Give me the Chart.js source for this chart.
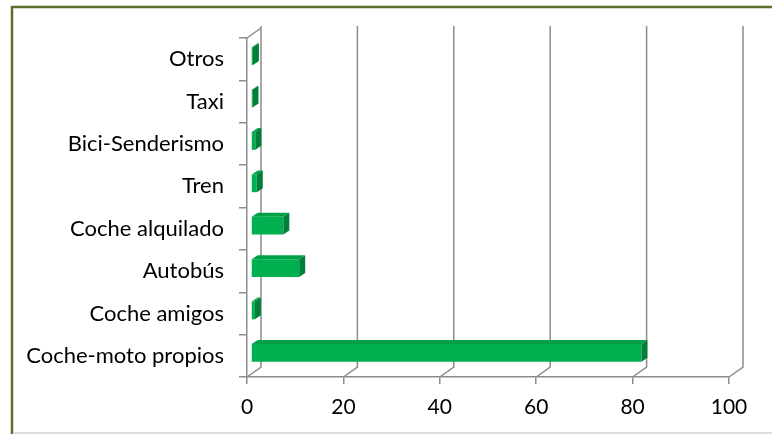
<!DOCTYPE html>
<html>
<head>
<meta charset="utf-8">
<script src="https://cdn.jsdelivr.net/npm/chart.js@4.4.1/dist/chart.umd.min.js"></script>
<style>
  html, body { margin: 0; padding: 0; background: #fff; }
  canvas { display: block; }
</style>
</head>
<body>
<canvas id="transporte" width="772" height="434"></canvas>
<script>
const categories = ["Coche-moto propios", "Coche amigos", "Autobús", "Coche alquilado", "Tren", "Bici-Senderismo", "Taxi", "Otros"];
const percentages = [81, 0.8, 10, 6.7, 1.2, 0.9, 0.3, 0.4];
const xTicks = [0, 20, 40, 60, 80, 100];

const WALL = { dx: 14, dy: -10 };      // depth of the box behind the bars
const BAR_SHIFT = { dx: 4, dy: -3 };   // bars sit a little inside the box
const BAR_DEPTH = { dx: 6, dy: -4 };
const GRID = "#8c8c8c";

function poly(ctx, pts) {
    ctx.beginPath();
    ctx.moveTo(pts[0][0], pts[0][1]);
    for (let i = 1; i < pts.length; i++) ctx.lineTo(pts[i][0], pts[i][1]);
    ctx.closePath();
    ctx.fill();
}

const depthBox = {
    id: "depthBox",
    beforeDraw(chart) {
        const { ctx, chartArea: a, scales } = chart;
        ctx.save();
        ctx.strokeStyle = "#5b6e2a";
        ctx.lineWidth = 2.5;
        ctx.strokeRect(12, 7, 900, 600);
        ctx.fillStyle = "#dcdcdc";
        ctx.fillRect(13, 432, 759, 2);

        // gridlines on the back wall, joined to the front ticks
        ctx.strokeStyle = GRID;
        ctx.lineWidth = 1.5;
        ctx.beginPath();
        xTicks.forEach(function (v) {
            const px = scales.x.getPixelForValue(v);
            ctx.moveTo(px, a.bottom);
            ctx.lineTo(px + WALL.dx, a.bottom + WALL.dy);
            ctx.lineTo(px + WALL.dx, a.top + WALL.dy - 2);
        });
        ctx.moveTo(a.left, a.top);
        ctx.lineTo(a.left + WALL.dx, a.top + WALL.dy);
        ctx.stroke();
        ctx.restore();
    },
    beforeDatasetsDraw(chart) {
        chart.ctx.save();
        chart.ctx.translate(BAR_SHIFT.dx, BAR_SHIFT.dy);
    },
    afterDatasetsDraw(chart) {
        const ctx = chart.ctx;
        chart.getDatasetMeta(0).data.forEach(function (bar) {
            const { x, y, base, height } = bar.getProps(["x", "y", "base", "height"], true);
            const t = y - height / 2, b = y + height / 2;
            ctx.fillStyle = "#00a047";
            poly(ctx, [[base, t], [x, t], [x + BAR_DEPTH.dx, t + BAR_DEPTH.dy], [base + BAR_DEPTH.dx, t + BAR_DEPTH.dy]]);
            ctx.fillStyle = "#007f38";
            poly(ctx, [[x, t], [x, b], [x + BAR_DEPTH.dx, b + BAR_DEPTH.dy], [x + BAR_DEPTH.dx, t + BAR_DEPTH.dy]]);
        });
        ctx.restore();
    }
};

new Chart(document.getElementById("transporte"), {
    type: "bar",
    data: {
        labels: categories,
        datasets: [{
            data: percentages,
            backgroundColor: "#00b050",
            borderWidth: 0,
            barPercentage: 0.42,
            categoryPercentage: 1,
            clip: false
        }]
    },
    options: {
        indexAxis: "y",
        responsive: false,
        animation: false,
        devicePixelRatio: 1,
        layout: { padding: { top: 38, right: 43, left: 0, bottom: 0 } },
        plugins: { legend: { display: false }, tooltip: { enabled: false } },
        scales: {
            x: {
                min: 0,
                max: 100,
                afterBuildTicks: function (s) { s.ticks = xTicks.map(v => ({ value: v })); },
                ticks: { font: { family: "Lato", size: 21 }, color: "#000", padding: 11, maxRotation: 0 },
                grid: { drawOnChartArea: false, tickLength: 7, color: GRID, lineWidth: 1.5 },
                border: { color: GRID, width: 1.5 },
                afterFit: function (s) { s.height = 57; }
            },
            y: {
                reverse: true,
                ticks: { font: { family: "Lato", size: 22 }, color: "#000", padding: 15 },
                grid: { drawOnChartArea: false, tickLength: 8, color: GRID, lineWidth: 1.5, offset: true },
                border: { color: GRID, width: 1.5 },
                afterFit: function (s) { s.width = 247; }
            }
        }
    },
    plugins: [depthBox]
});
</script>
</body>
</html>
